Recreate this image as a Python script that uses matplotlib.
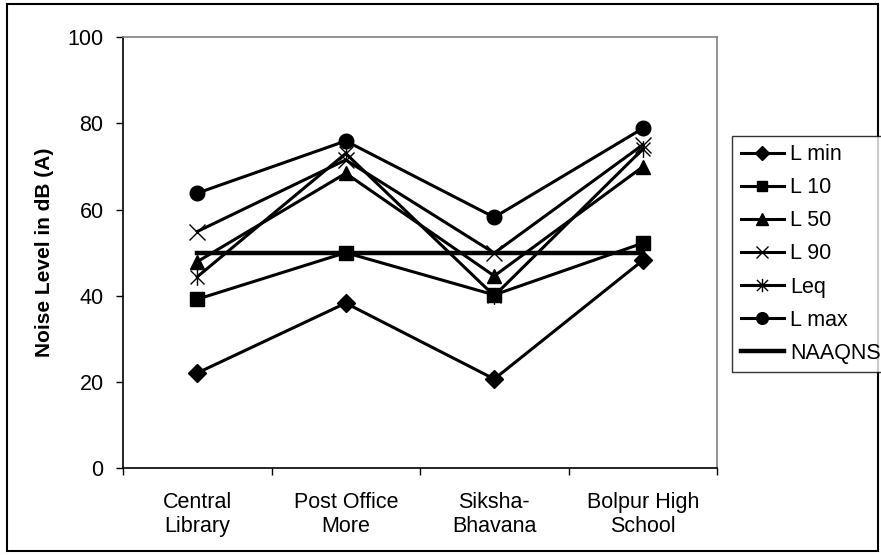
import matplotlib
matplotlib.use("Agg")
import matplotlib.pyplot as plt
from matplotlib.path import Path
from matplotlib.patches import Rectangle

plt.rcParams['font.family'] = ['Liberation Sans', 'DejaVu Sans']

# Monitoring sites and measured noise levels, dB(A)
sites = ["Central\nLibrary", "Post Office\nMore", "Siksha-\nBhavana", "Bolpur High\nSchool"]
l_min = [22.1, 38.3, 20.7, 48.2]
l_10 = [39.2, 50.0, 40.2, 52.2]
l_50 = [47.9, 68.4, 44.6, 69.9]
l_90 = [54.9, 71.5, 49.9, 75.0]
l_eq = [44.4, 73.0, 40.0, 74.0]
l_max = [63.8, 75.9, 58.2, 78.8]
naaqns = [50, 50, 50, 50]
y_ticks = [0, 20, 40, 60, 80, 100]
series_names = ["L min", "L 10", "L 50", "L 90", "Leq", "L max", "NAAQNS"]

W, H = 881, 555
FS = 15.5
fig = plt.figure(figsize=(W / 100, H / 100), dpi=100)
ax = fig.add_axes([123 / W, 1 - 468.3 / H, (717 - 123) / W, (468.3 - 37) / H])

# Six-armed star: an X with a vertical bar through it
star = Path([(-0.5, -0.5), (0.5, 0.5), (-0.5, 0.5), (0.5, -0.5), (0, -0.6), (0, 0.6)],
            [Path.MOVETO, Path.LINETO, Path.MOVETO, Path.LINETO, Path.MOVETO, Path.LINETO])

x = list(range(len(sites)))
lw = 2.2
styles = [
    dict(marker='D', ms=9),
    dict(marker='s', ms=9.5),
    dict(marker='^', ms=10),
    dict(marker='x', ms=11, mew=1.0),
    dict(marker=star, ms=12, mew=1.0),
    dict(marker='o', ms=10.5),
]
data = [l_min, l_10, l_50, l_90, l_eq, l_max]
handles = []
for vals, st, name in zip(data, styles, series_names[:6]):
    h, = ax.plot(x, vals, color='black', lw=lw, mfc='black', mec='black',
                 label=name, zorder=3, **st)
    handles.append(h)
h, = ax.plot(x, naaqns, color='black', lw=3.2, label=series_names[6], zorder=2)
handles.append(h)

ax.set_ylim(0, 100)
ax.set_yticks(y_ticks)
ax.set_xlim(-0.5, 3.5)
ax.set_xticks([-0.5, 0.5, 1.5, 2.5, 3.5])
ax.set_xticklabels([])
ax.set_xticks(x, minor=True)
ax.set_xticklabels(sites, minor=True)
ax.tick_params(axis='x', which='major', length=5, width=1, direction='out')
ax.tick_params(axis='x', which='minor', length=0, pad=17, labelsize=FS)
ax.tick_params(axis='y', length=5, width=1, direction='out', pad=9, labelsize=FS)

for s in ('left', 'bottom'):
    ax.spines[s].set_color('black')
    ax.spines[s].set_linewidth(1.2)
for s in ('top', 'right'):
    ax.spines[s].set_color('#808080')
    ax.spines[s].set_linewidth(1.2)

fig.text(45 / W, 1 - 252.5 / H, "Noise Level in dB (A)", rotation=90,
         ha='center', va='center', fontsize=15, fontweight='bold')

leg = fig.legend(handles=handles, loc='upper left',
                 bbox_to_anchor=(732.3 / W, 1 - 135.7 / H),
                 fontsize=FS, frameon=True, fancybox=False, edgecolor='black',
                 handlelength=2.0, handletextpad=0.3, borderpad=0.4,
                 labelspacing=0.56, borderaxespad=0, markerscale=0.8)
leg.get_frame().set_linewidth(1.0)

fig.patches.append(Rectangle((7 / W, 4 / H), (878 - 7) / W, (551 - 4) / H,
                             transform=fig.transFigure, fill=False,
                             edgecolor='black', lw=1.5))

fig.savefig("out.png", dpi=100)
